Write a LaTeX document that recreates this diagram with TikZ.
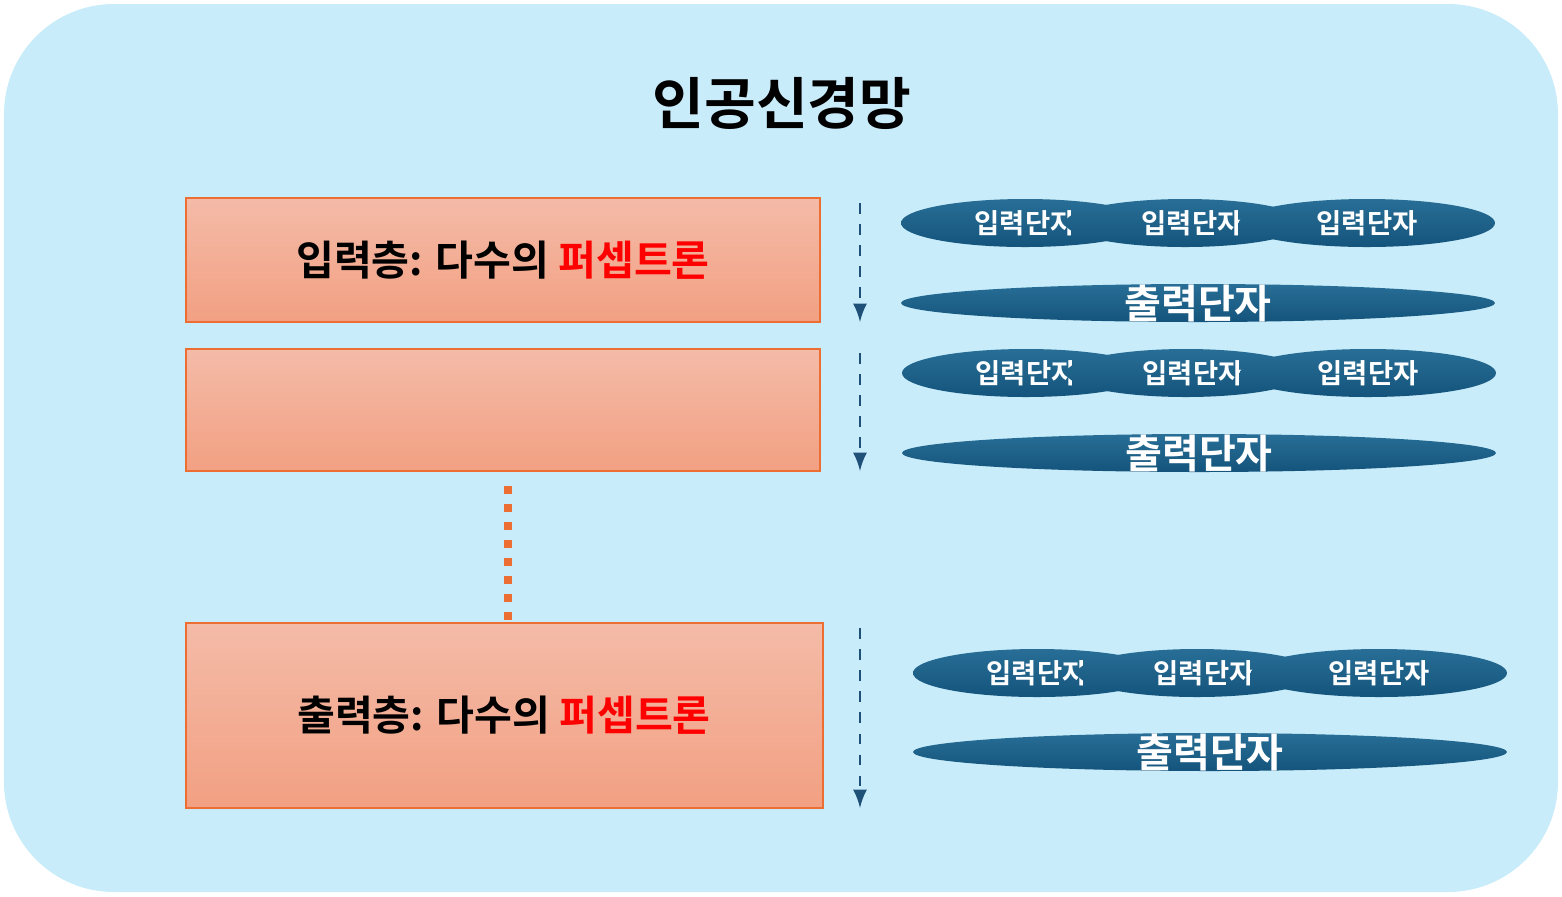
\documentclass[tikz,border=0pt]{standalone}
\usepackage{fontspec}
\setmainfont{Noto Sans CJK KR}[BoldFont={Noto Sans CJK KR Bold}]
\usetikzlibrary{shapes.geometric,backgrounds}
\definecolor{skyback}{RGB}{200,236,250}
\definecolor{layertop}{RGB}{244,187,168}
\definecolor{layerbot}{RGB}{242,160,130}
\definecolor{layerline}{RGB}{237,110,50}
\definecolor{unitblue}{RGB}{20,84,124}
\definecolor{unitlight}{RGB}{40,110,150}
\definecolor{flowblue}{RGB}{30,80,120}
\tikzset{
  layerbox/.style={draw=layerline, line width=0.6pt, top color=layertop, bottom color=layerbot},
  unitfill/.style={top color=unitlight, bottom color=unitblue},
  intext/.style={text=white, font=\bfseries\fontsize{7.8}{9}\selectfont},
  outtext/.style={text=white, font=\bfseries\fontsize{11.4}{13}\selectfont},
  flow/.style={draw=flowblue, dashed, line width=0.8pt, -latex},
}
\newcommand{\unitgroup}[3]{% x shift, input row y, output row y
  \path[unitfill] (1025+#1,#2) ellipse (124 and 24);
  \node[intext] (#1a) at (1025+#1,#2) {입력단자};
  \path[unitfill] (1185+#1,#2) ellipse (120 and 24);
  \node[intext] (#1b) at (1192+#1,#2) {입력단자};
  \path[unitfill] (1367+#1,#2) ellipse (128 and 24);
  \node[intext] (#1c) at (1367+#1,#2) {입력단자};
  \path[unitfill] (1198+#1,#3) ellipse (297 and 19);
  \node[outtext] (#1o) at (1198+#1,#3) {출력단자};
}
\begin{document}
\begin{tikzpicture}[x=0.01cm, y=-0.01cm]
  \useasboundingbox (0,0) rectangle (1562,896);
  \fill[skyback, rounded corners=1.1cm] (4,4) rectangle (1558,892);
  \node[font=\bfseries\fontsize{16}{19}\selectfont] (title) at (782,103) {인공신경망};
  % layers
  \draw[layerbox] (186,198) rectangle (820,322);
  \node[font=\bfseries\fontsize{11.7}{14}\selectfont] (inlayer) at (503,260) {입력층: 다수의 \textcolor{red}{퍼셉트론}};
  \draw[layerbox] (186,349) rectangle (820,471);
  \draw[layerbox] (186,623) rectangle (823,808);
  \node[font=\bfseries\fontsize{11.7}{14}\selectfont] (outlayer) at (504,715) {출력층: 다수의 \textcolor{red}{퍼셉트론}};
  \coordinate (dottop) at (508,486);
  \coordinate (dotbot) at (508,620);
  \draw[layerline, line width=2.3pt, dash pattern=on 2.3pt off 2.8pt] (dottop) -- (dotbot);
  % flows
  \coordinate (f1s) at (860,203); \coordinate (f1e) at (860,322);
  \coordinate (f2s) at (860,353); \coordinate (f2e) at (860,471);
  \coordinate (f3s) at (860,628); \coordinate (f3e) at (860,808);
  \draw[flow] (f1s) -- (f1e);
  \draw[flow] (f2s) -- (f2e);
  \draw[flow] (f3s) -- (f3e);
  % units
  \unitgroup{0}{223}{303}
  \unitgroup{1}{373}{453}
  \unitgroup{12}{673}{752}
\end{tikzpicture}
\end{document}
